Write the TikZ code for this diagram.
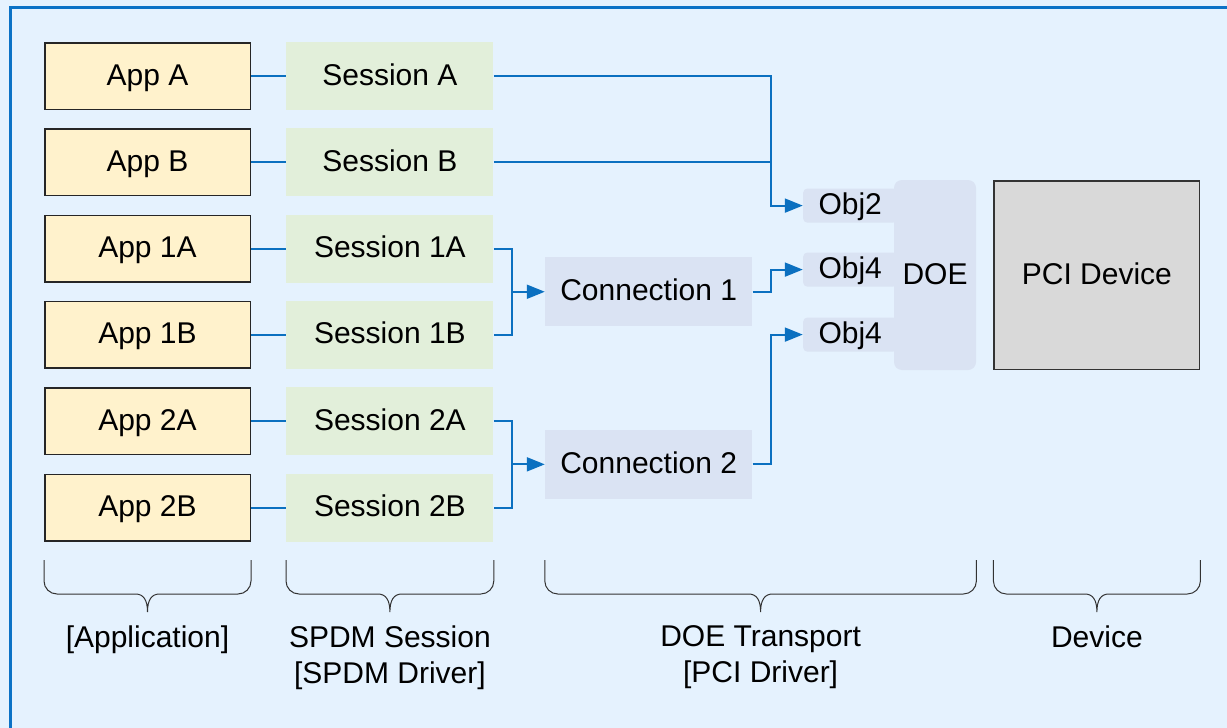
\documentclass[tikz,border=0pt]{standalone}
\usepackage{fontspec}
\setmainfont{Liberation Sans}
\usepackage{xcolor}
\definecolor{bgblue}{HTML}{E5F2FE}
\definecolor{frameblue}{HTML}{0B72C6}
\definecolor{linkblue}{HTML}{0B70C0}
\definecolor{appyellow}{HTML}{FFF2CC}
\definecolor{sessgreen}{HTML}{E2EFDA}
\definecolor{doeblue}{HTML}{DAE3F3}
\definecolor{devgray}{HTML}{D9D9D9}
\usepackage{tikz}
\usetikzlibrary{arrows.meta,positioning,calc}
% brace under one column: left node, right node, name, label
\newcommand{\colbrace}[4]{%
  \path (#1.west |- 0,560) coordinate (#3l) (#2.east |- 0,560) coordinate (#3r);
  \coordinate (#3m) at ($(#3l)!.5!(#3r)$);
  \draw[brace] (#3l) -- ++(0,21) arc[start angle=180,end angle=90,radius=13]
    -- ($(#3m)+(-12,34)$) .. controls ($(#3m)+(-4,34)$) and ($(#3m)+(0,40)$) .. ($(#3m)+(0,52)$) coordinate (#3tip)
    .. controls ($(#3m)+(0,40)$) and ($(#3m)+(4,34)$) .. ($(#3m)+(12,34)$)
    -- ($(#3r)+(-13,34)$) arc[start angle=90,end angle=0,radius=13] -- (#3r);
  \node[lbl,below=6.5pt of #3tip] (#3) {#4};
}

\begin{document}
\begin{tikzpicture}[x=0.5pt,y=-0.5pt,
  font=\fontsize{15pt}{18pt}\selectfont,
  box/.style={inner sep=0pt,text height=11pt,text depth=2pt},
  app/.style={box,draw=black!85,line width=0.75pt,fill=appyellow,minimum width=102.75pt,minimum height=33.25pt},
  sess/.style={box,fill=sessgreen,minimum width=103.5pt,minimum height=34pt},
  conn/.style={box,fill=doeblue,minimum width=103.5pt,minimum height=34.5pt},
  obj/.style={box,fill=doeblue,rounded corners=2pt,minimum width=47pt,minimum height=17pt},
  doe/.style={box,fill=doeblue,rounded corners=4pt,minimum width=41pt,minimum height=95pt},
  dev/.style={box,draw=black!80,line width=0.75pt,fill=devgray,minimum width=102.75pt,minimum height=94.25pt},
  link/.style={draw=linkblue,line width=1pt},
  arr/.style={link,-{Triangle[length=9pt,width=7pt]}},
  brace/.style={draw=black!80,line width=0.5pt},
  lbl/.style={inner sep=0pt,align=center}]
\useasboundingbox (0,0) rectangle (1227,728);
\fill[bgblue] (0,0) rectangle (1227,728);
\draw[frameblue,line width=1.5pt] (10.5,7.5) rectangle (1300,800);
% applications
\node[app] (appA) at (147.5,76) {App A};
\node[app,below=9.15pt of appA] (appB) {App B};
\node[app,below=9.15pt of appB] (app1A) {App 1A};
\node[app,below=9.15pt of app1A] (app1B) {App 1B};
\node[app,below=9.15pt of app1B] (app2A) {App 2A};
\node[app,below=9.15pt of app2A] (app2B) {App 2B};
% sessions
\node[sess,right=17.5pt of appA] (sessA) {Session A};
\node[sess,right=17.5pt of appB] (sessB) {Session B};
\node[sess,right=17.5pt of app1A] (sess1A) {Session 1A};
\node[sess,right=17.5pt of app1B] (sess1B) {Session 1B};
\node[sess,right=17.5pt of app2A] (sess2A) {Session 2A};
\node[sess,right=17.5pt of app2B] (sess2B) {Session 2B};
% connections
\coordinate (m1) at ($(sess1A.east)!.5!(sess1B.east)$);
\coordinate (m2) at ($(sess2A.east)!.5!(sess2B.east)$);
\node[conn,right=25.5pt of m1] (conn1) {Connection 1};
\node[conn,right=25.5pt of m2] (conn2) {Connection 2};
\coordinate (bus) at ($(conn1.east)+(9pt,0)$);
% DOE and device
\node[doe] (doe) at (935,275) {DOE};
\node[obj,anchor=east] (obj2) at ($(doe.north west)+(2pt,-13pt)$) {Obj2};
\node[obj,anchor=east] (obj4a) at ($(doe.north west)+(2pt,-45pt)$) {Obj4};
\node[obj,anchor=east] (obj4b) at ($(doe.north west)+(2pt,-77.5pt)$) {Obj4};
\node[dev,right=8.5pt of doe] (pci) {PCI Device};
% links
\foreach \s in {A,B,1A,1B,2A,2B}
  \draw[link] (app\s) -- (sess\s);
\draw[arr] (sessA.east) -- (sessA.east -| bus) |- (obj2.west);
\draw[link] (sessB.east) -- (sessB.east -| bus);
\draw[link] (sess1A.east) -- ++(9pt,0) coordinate (j1) |- (sess1B.east);
\draw[arr] (j1 |- conn1.west) -- (conn1.west);
\draw[link] (sess2A.east) -- ++(9pt,0) coordinate (j2) |- (sess2B.east);
\draw[arr] (j2 |- conn2.west) -- (conn2.west);
\draw[arr] (conn1.east) -- (conn1.east -| bus) |- (obj4a.west);
\draw[arr] (conn2.east) -- (conn2.east -| bus) |- (obj4b.west);
% braces and layer names
\colbrace{app2B}{app2B}{applbl}{[Application]}
\colbrace{sess2B}{sess2B}{spdmlbl}{SPDM Session\\{[SPDM Driver]}}
\colbrace{conn2}{doe}{doelbl}{DOE Transport\\{[PCI Driver]}}
\colbrace{pci}{pci}{devlbl}{Device}
\end{tikzpicture}
\end{document}
